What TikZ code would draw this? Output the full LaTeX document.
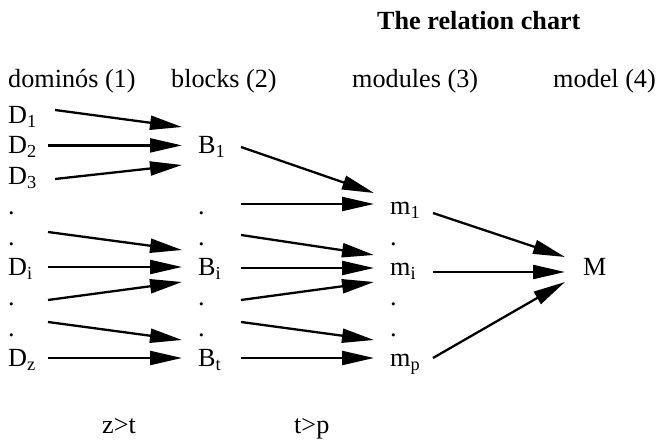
\documentclass[tikz,border=0pt]{standalone}
\usepackage{fontspec}
\setmainfont{Liberation Serif}
\usetikzlibrary{arrows.meta}
\newcommand{\chartfont}{\fontsize{26.2}{30}\selectfont}
\tikzset{
  txt/.style={inner sep=0pt, anchor=base west, font=\chartfont},
  arr/.style={line width=2.3pt, -{Triangle[length=32pt,width=14pt]}}
}

\begin{document}
\begin{tikzpicture}[x=1pt, y=1pt]
            \useasboundingbox (0,0) rectangle (659,441);

            % title and headings
            \node[txt](title)at(377,411){\textbf{The relation chart}};
            \node[txt](h1)at(8,353){dominós (1)};
            \node[txt](h2)at(171,353){blocks (2)};
            \node[txt](h3)at(352,353){modules (3)};
            \node[txt](h4)at(553,353){model (4)};

            % dominós
            \node[txt](d1)at(8,317.5){D\textsubscript{1}};
            \node[txt](d2)at(8,287.1){D\textsubscript{2}};
            \node[txt](d3)at(8,256.7){D\textsubscript{3}};
            \node[txt](d4)at(8,226.3){.};
            \node[txt](d5)at(8,195.9){.};
            \node[txt](di)at(8,165.5){D\textsubscript{i}};
            \node[txt](d7)at(8,135.1){.};
            \node[txt](d8)at(8,104.7){.};
            \node[txt](dz)at(8,74.3){D\textsubscript{z}};

            % blocks
            \node[txt](b1)at(198,287.1){B\textsubscript{1}};
            \node[txt](e4)at(198,226.3){.};
            \node[txt](e5)at(198,195.9){.};
            \node[txt](bi)at(198,165.5){B\textsubscript{i}};
            \node[txt](e7)at(198,135.1){.};
            \node[txt](e8)at(198,104.7){.};
            \node[txt](bt)at(198,74.3){B\textsubscript{t}};

            % modules
            \node[txt](m1)at(390,226.3){m\textsubscript{1}};
            \node[txt](f5)at(390,195.9){.};
            \node[txt](mi)at(390,165.5){m\textsubscript{i}};
            \node[txt](f7)at(390,135.1){.};
            \node[txt](f8)at(390,104.7){.};
            \node[txt](mp)at(390,74.3){m\textsubscript{p}};

            % model
            \node[txt](M)at(583,165.5){M};

            % conditions
            \node[txt](c1)at(102,7){z>t};
            \node[txt](c2)at(294,7){t>p};

            % dominós -> blocks
            \draw[arr]([xshift=47pt,yshift=13.5pt]d1.base west)--([xshift=-16pt,yshift=26.9pt]b1.base west);
            \draw[arr]([xshift=40pt,yshift=8.5pt]d2.base west)--([xshift=-16pt,yshift=8.5pt]b1.base west);
            \draw[arr]([xshift=47pt,yshift=5.3pt]d3.base west)--([xshift=-16pt,yshift=-11.1pt]b1.base west);
            \draw[arr]([xshift=40pt,yshift=13.1pt]d5.base west)--([xshift=-16pt,yshift=25.5pt]bi.base west);
            \draw[arr]([xshift=40pt,yshift=8.5pt]di.base west)--([xshift=-16pt,yshift=8.5pt]bi.base west);
            \draw[arr]([xshift=40pt,yshift=5.9pt]d7.base west)--([xshift=-16pt,yshift=-6.5pt]bi.base west);
            \draw[arr]([xshift=40pt,yshift=14.3pt]d8.base west)--([xshift=-16pt,yshift=26.7pt]bt.base west);
            \draw[arr]([xshift=40pt,yshift=8.7pt]dz.base west)--([xshift=-16pt,yshift=8.7pt]bt.base west);

            % blocks -> modules
            \draw[arr]([xshift=43pt,yshift=6.9pt]b1.base west)--([xshift=-16pt,yshift=21.7pt]m1.base west);
            \draw[arr]([xshift=43pt,yshift=10.7pt]e4.base west)--([xshift=-16pt,yshift=10.7pt]m1.base west);
            \draw[arr]([xshift=43pt,yshift=10.1pt]e5.base west)--([xshift=-16pt,yshift=20.5pt]mi.base west);
            \draw[arr]([xshift=43pt,yshift=7.5pt]bi.base west)--([xshift=-16pt,yshift=7.5pt]mi.base west);
            \draw[arr]([xshift=43pt,yshift=5.9pt]e7.base west)--([xshift=-16pt,yshift=-6.5pt]mi.base west);
            \draw[arr]([xshift=43pt,yshift=14.3pt]e8.base west)--([xshift=-16pt,yshift=26.7pt]mp.base west);
            \draw[arr]([xshift=43pt,yshift=8.7pt]bt.base west)--([xshift=-16pt,yshift=8.7pt]mp.base west);

            % modules -> model
            \draw[arr]([xshift=43pt,yshift=1.7pt]m1.base west)--([xshift=-18pt,yshift=18.5pt]M.base west);
            \draw[arr]([xshift=43pt,yshift=3.5pt]mi.base west)--([xshift=-18pt,yshift=3.5pt]M.base west);
            \draw[arr]([xshift=43pt,yshift=8.7pt]mp.base west)--([xshift=-18pt,yshift=-6.5pt]M.base west);
\end{tikzpicture}
\end{document}
